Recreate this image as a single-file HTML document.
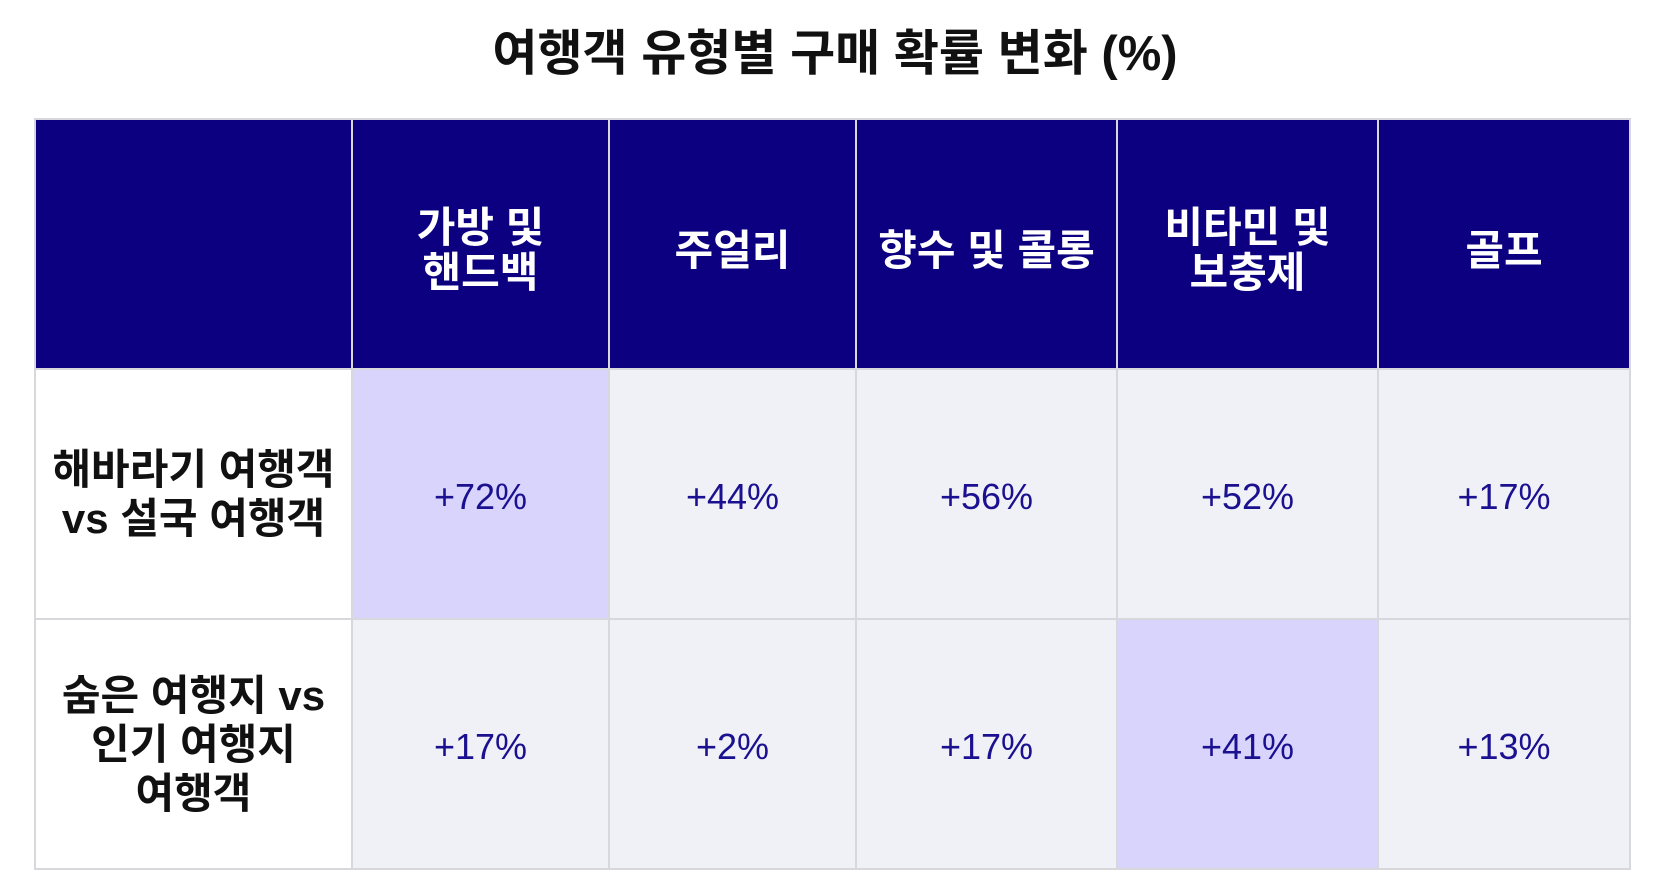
<!DOCTYPE html>
<html><head><meta charset="utf-8"><style>
body{margin:0;width:1670px;height:896px;background:#fff;font-family:"Liberation Sans","Noto Sans CJK KR",sans-serif;overflow:hidden}
h1{position:absolute;top:14px;left:0;width:1670px;text-align:center;margin:0;font-size:49px;font-weight:bold;color:#111}
table{position:absolute;left:34px;top:118px;border-collapse:collapse;table-layout:fixed}
td{border:2px solid #d8d8dc;text-align:center;vertical-align:middle;padding:0;white-space:nowrap}
tr.h td{background:#0c0080;color:#fff;font-weight:bold;font-size:42px;line-height:45px;height:250px;padding-top:12px;box-sizing:border-box}
td.l{background:#fff;color:#111;font-weight:bold;font-size:42px;line-height:49px}
td.v{background:#f0f1f6;color:#1a1090;font-size:36px;padding-top:6px}
td.hi{background:#d8d4fc}
tr.r td{height:242px}
</style></head><body>
<h1>여행객 유형별 구매 확률 변화 (%)</h1>
<table>
<colgroup><col style="width:317px"><col style="width:257px"><col style="width:247px"><col style="width:261px"><col style="width:261px"><col style="width:252px"></colgroup>
<tr class="h"><td></td><td>가방 및<br>핸드백</td><td>주얼리</td><td>향수 및 콜롱</td><td>비타민 및<br>보충제</td><td>골프</td></tr>
<tr class="r"><td class="l">해바라기 여행객<br>vs 설국 여행객</td><td class="v hi">+72%</td><td class="v">+44%</td><td class="v">+56%</td><td class="v">+52%</td><td class="v">+17%</td></tr>
<tr class="r"><td class="l">숨은 여행지 vs<br>인기 여행지<br>여행객</td><td class="v">+17%</td><td class="v">+2%</td><td class="v">+17%</td><td class="v hi">+41%</td><td class="v">+13%</td></tr>
</table>
</body></html>
